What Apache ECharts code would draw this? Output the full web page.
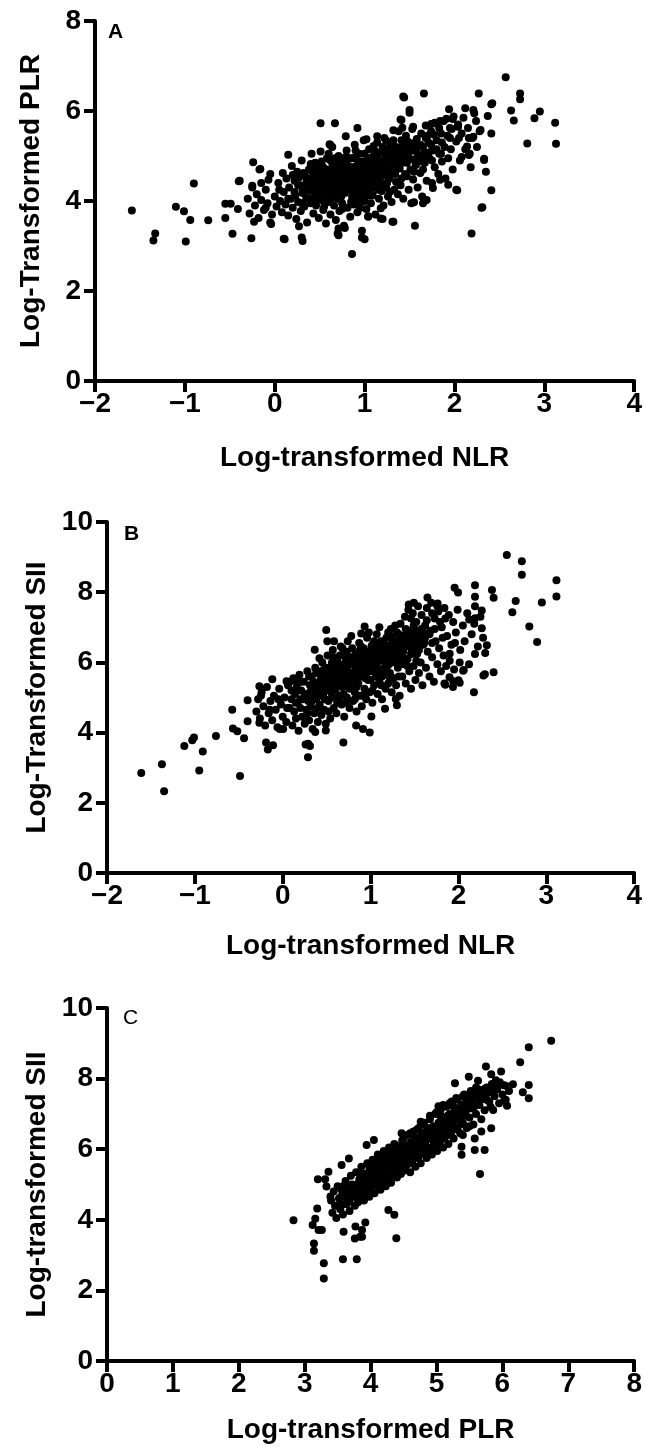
<!DOCTYPE html>
<html>
<head>
<meta charset="utf-8">
<script src="https://cdn.jsdelivr.net/npm/echarts@6/dist/echarts.min.js"></script>
<style>
html,body{margin:0;padding:0;background:#fff;}
#chart{width:645px;height:1447px;}
</style>
</head>
<body>
<div id="chart"></div>
<script>
// ---- Panel A: Log-transformed NLR (x) vs Log-Transformed PLR (y) ----
const nlrPlrOutliers = [
[-1.59,3.79],[-1.33,3.28],[-1.35,3.12],[-1.10,3.87],[-1.01,3.77],[-0.99,3.10],[-0.94,3.58],[-0.90,4.39],
[-0.74,3.57],[-0.55,3.94],[-0.49,3.94],[-0.55,3.62],[-0.47,3.27],[-0.41,3.82],[-0.40,4.44],[-0.26,3.17],
[-0.24,4.86],[-0.23,3.54],[-0.17,4.70],[-0.07,4.47],[-0.05,3.52],[0.10,3.16],[0.15,5.03],[0.27,3.44],
[0.30,3.19],[0.31,3.11],[0.51,5.73],[0.67,5.73],[0.62,5.24],[0.71,3.39],[0.71,3.24],[0.77,3.43],[0.86,2.82],
[0.92,5.62],[0.97,3.19],[1.00,3.15],[0.97,3.34],[1.04,3.65],[1.18,3.61],[1.31,3.54],[1.44,6.30],[1.41,5.80],
[1.50,6.02],[1.50,5.96],[1.56,3.45],[1.66,6.39],[1.69,4.02],[1.65,3.95],[1.94,6.04],[1.98,5.82],[2.03,4.24],
[2.12,6.06],[2.19,3.28],[2.21,6.02],[2.27,6.39],[2.30,3.85],[2.33,4.91],[2.35,4.65],[2.37,5.89],[2.41,5.50],
[2.41,6.15],[2.41,4.24],[2.16,5.02],[2.14,5.21],[2.57,6.75],[2.63,6.01],[2.66,5.79],[2.73,6.39],[2.73,6.26],
[2.81,5.28],[2.89,5.84],[2.95,5.99],[3.12,5.74],[3.13,5.27],[2.42,6.17],[2.24,5.78],[2.29,5.58],[2.16,5.40],
[2.21,5.43],[1.91,5.83],[2.04,5.65],[1.97,5.60],[2.05,5.40],[2.08,4.98],[2.17,5.05],[2.33,4.94],[2.31,3.86],
[1.24,5.34],[1.32,5.57],[1.42,5.63],[1.54,5.65],[1.40,5.81],[1.43,6.32],[1.78,5.74],[1.74,5.71],[1.84,5.78],
[0.79,5.44],[1.02,5.37],[0.61,5.26],[1.14,5.44],[-0.16,4.71],[-0.39,4.45],[-0.25,4.34],[0.70,3.28],[0.78,3.40],
[1.04,3.66],[1.18,3.84],[1.20,3.60],[1.32,3.54],[1.55,3.97],[1.67,4.03],[1.76,4.29],[1.93,4.36],[2.02,4.25],
[1.84,4.47],[-0.04,3.49],[0.11,3.15]
];
const nlrPlrCore = [
[-0.30,4.05],[-0.28,3.72],[-0.25,4.30],[-0.22,3.90],[-0.20,4.15],[-0.18,3.62],[-0.15,4.02],[-0.12,3.80],
[-0.10,4.25],[-0.08,3.95],[-0.05,4.60],[-0.03,3.70],[0.00,4.10],[0.02,3.88],[0.04,4.40],[0.06,4.00],
[0.08,3.75],[0.09,4.62],[0.10,4.20],[0.12,3.92],[0.13,4.50],[0.15,3.68],[0.16,4.30],[0.18,4.05],[0.19,4.78],
[0.20,3.85],[0.22,4.45],[0.23,4.12],[0.24,3.60],[0.25,4.65],[0.26,3.98],[0.28,4.35],[0.29,3.78],[0.30,4.90],
[0.31,4.18],[0.33,3.88],[0.34,4.55],[0.35,4.05],[0.36,3.52],[0.38,4.70],[0.39,4.28],[0.40,3.95],[0.41,5.05],
[0.42,4.45],[0.43,3.72],[0.44,4.15],[0.45,4.85],[0.46,3.90],[0.47,4.38],[0.48,4.60],[0.49,3.62],[0.50,4.25],
[0.51,5.10],[0.52,4.02],[0.53,4.50],[0.54,3.80],[0.55,4.72],[0.56,4.12],[0.57,3.50],[0.58,4.95],[0.59,4.35],
[0.60,3.98],[0.61,4.58],[0.62,3.70],[0.63,4.22],[0.64,5.20],[0.65,4.80],[0.66,3.90],[0.67,4.42],[0.68,3.58],
[0.69,4.65],[0.70,4.05],[0.71,5.00],[0.72,3.78],[0.73,4.30],[0.74,4.88],[0.75,3.95],[0.76,4.52],[0.77,3.45],
[0.78,4.18],[0.79,4.75],[0.80,5.12],[0.81,3.85],[0.82,4.40],[0.83,4.62],[0.84,3.65],[0.85,4.95],[0.86,4.10],
[0.87,4.55],[0.88,3.92],[0.89,5.25],[0.90,4.30],[0.91,4.78],[0.92,3.75],[0.93,4.48],[0.94,5.05],[0.95,4.15],
[0.96,3.98],[0.97,4.68],[0.98,4.35],[0.99,5.35],[1.00,4.00],[1.01,4.58],[1.02,3.82],[1.03,4.85],[1.04,4.25],
[1.05,5.15],[1.06,4.45],[1.07,3.95],[1.08,4.72],[1.09,4.12],[1.10,5.00],[1.11,4.60],[1.12,3.70],[1.13,4.35],
[1.14,5.30],[1.15,4.88],[1.16,4.05],[1.17,4.52],[1.18,5.08],[1.19,4.22],[1.20,4.75],[1.21,3.90],[1.22,5.40],
[1.23,4.62],[1.24,4.30],[1.25,4.98],[1.26,4.10],[1.27,5.18],[1.28,4.50],[1.29,4.82],[1.30,3.98],[1.31,4.68],
[1.32,5.35],[1.33,4.25],[1.34,4.90],[1.35,4.42],[1.36,5.05],[1.37,4.15],[1.38,5.55],[1.39,4.72],[1.40,4.35],
[1.42,5.22],[1.43,4.05],[1.44,4.88],[1.46,5.45],[1.47,4.55],[1.48,5.00],[1.49,4.25],[1.50,5.28],[1.51,4.70],
[1.52,3.95],[1.53,5.60],[1.54,4.48],[1.55,5.12],[1.57,4.80],[1.58,5.38],[1.59,4.30],[1.60,5.02],[1.62,4.62],
[1.63,5.50],[1.64,4.10],[1.65,5.20],[1.67,4.85],[1.68,5.68],[1.69,4.45],[1.71,5.30],[1.72,4.95],[1.74,5.55],
[1.75,4.40],[1.76,5.12],[1.78,4.75],[1.79,5.72],[1.80,5.35],[1.82,4.60],[1.83,5.05],[1.85,5.50],[1.86,4.88],
[1.88,5.78],[1.89,5.20],[1.90,4.50],[1.92,5.45],[1.93,4.95],[1.95,5.62],[1.96,5.15],[1.98,4.70],[1.99,5.88],
[2.02,5.32],[2.04,5.70],[2.06,4.90],[2.08,5.50],[2.10,5.85],[2.12,5.15],[2.15,5.62],[2.18,4.75],[2.20,5.40],
[2.22,5.95],[2.25,5.20],[2.28,5.55],
[0.32,4.62],[0.37,4.22],[0.44,4.55],[0.48,4.10],[0.53,4.78],[0.57,4.30],[0.61,4.92],[0.63,4.05],[0.66,4.62],
[0.70,4.35],[0.72,4.58],[0.75,4.20],[0.78,4.90],[0.81,4.45],[0.84,4.25],[0.86,4.75],[0.88,4.55],[0.91,4.05],
[0.93,4.88],[0.96,4.40],[0.98,4.70],[1.00,4.20],[1.03,4.50],[1.06,4.95],[1.08,4.35],[1.11,4.80],[1.13,4.55],
[1.16,4.68],[1.19,4.40],[1.22,4.92],[1.25,4.55],[1.28,4.20],[1.31,4.98],[1.34,4.60],[1.37,4.80],[1.41,4.50],
[0.55,4.40],[0.68,4.85],[0.83,4.95],[0.95,4.62],[1.10,4.30],[0.60,4.25],[0.77,4.68],[0.90,4.98],[1.04,4.70],
[1.18,4.85],[0.46,4.72],[0.40,4.35],[0.74,4.10],[0.89,4.30]
];
const nlrPlrDense = [
[0.22,4.20],[0.27,4.52],[0.33,4.30],[0.38,4.05],[0.42,4.65],[0.47,4.22],[0.50,4.48],[0.52,4.88],[0.56,4.58],
[0.59,4.15],[0.62,4.45],[0.65,4.28],[0.67,4.95],[0.69,4.50],[0.71,4.22],[0.73,4.75],[0.76,4.40],[0.79,4.58],
[0.80,4.30],[0.82,4.78],[0.85,4.48],[0.87,4.20],[0.89,4.68],[0.92,4.42],[0.94,4.25],[0.97,4.88],[0.99,4.52],
[1.01,4.32],[1.04,4.95],[1.07,4.62],[1.09,4.45],[1.12,5.10],[1.15,4.72],[1.17,4.90],[1.20,4.58],[1.23,5.05],
[1.26,4.75],[1.29,5.15],[1.32,4.82],[1.35,5.20],[1.38,4.95],[1.41,5.35],[1.44,5.05],[1.47,4.85],[1.50,5.10],
[1.53,4.92],[1.56,5.30],[1.59,5.00],[1.62,5.25],[1.65,4.95],[1.68,5.40],[1.71,5.08],[1.74,5.25],[1.77,5.48],
[1.80,5.15],[1.83,5.62],[1.86,5.30],[0.30,3.95],[0.35,4.40],[0.45,4.02],[0.55,3.88],[0.65,4.08],[0.75,3.82],
[0.85,3.98],[0.95,3.85],[1.05,4.12],[1.15,4.25],[1.25,4.40],[0.40,4.82],[0.50,4.70],[0.60,5.05],[0.70,4.72],
[0.80,4.92],[0.90,5.12],[1.00,5.05],[1.10,5.22],[1.20,5.20],[1.30,5.28],[0.15,4.05],[0.05,4.25],[-0.10,3.85],
[-0.15,4.40],[0.20,4.58],[1.45,4.60],[1.55,4.65],[1.65,4.70],[1.75,4.90],[1.85,5.05],[1.95,5.40],[0.58,4.62],
[0.64,4.75],[0.72,4.90],[0.86,4.60],[0.93,4.70],[1.02,4.88],[1.14,4.95],[0.68,4.30],[0.78,4.25],[0.88,4.15],
[0.98,4.10],
[0.41,4.50],[0.43,4.30],[0.49,4.40],[0.51,4.62],[0.54,4.20],[0.57,4.70],[0.60,4.50],[0.63,4.88],[0.66,4.40],
[0.68,4.15],[0.70,4.60],[0.73,4.45],[0.75,4.65],[0.77,4.32],[0.79,4.98],[0.81,4.62],[0.83,4.38],[0.85,4.72],
[0.87,4.95],[0.90,4.58],[0.91,4.38],[0.94,4.55],[0.96,4.80],[0.98,4.25],[1.00,4.65],[1.02,4.42],[1.05,4.58],
[1.07,4.28],[1.09,4.85],[1.11,4.48],[1.13,4.72],[1.16,4.45],[1.18,4.62],[1.21,4.78],[1.24,4.68],[1.27,4.95],
[1.30,4.62],[1.33,5.08],[1.36,4.72],[1.39,5.12],[1.42,4.85],[1.45,5.18],[1.48,5.32],[1.52,5.18],[1.58,5.15],
[1.61,4.88],[1.66,5.05],[1.70,5.45],[0.36,4.48],[0.31,4.25],[0.26,4.35],[0.52,4.35],[0.62,4.68],[0.72,4.40],
[0.82,4.58],[0.92,4.62],[1.02,4.62],[1.12,4.65],[1.22,4.70],[0.64,4.55],[0.84,4.68],[1.04,4.82],[0.74,4.55],
[0.94,4.50],[1.14,4.58],[0.55,4.55],[0.45,4.45],[1.26,5.02],[1.36,4.92],[1.46,4.98]
];

// ---- Panel B: Log-transformed NLR (x) vs Log-Transformed SII (y) ----
const nlrSiiOutliers = [
[-1.61,2.85],[-1.375,3.10],[-1.35,2.33],[-1.12,3.62],[-1.03,3.78],[-1.01,3.86],[-0.95,2.92],[-0.91,3.46],
[-0.76,3.90],[-0.575,4.65],[-0.567,4.12],[-0.517,4.04],[-0.44,3.84],[-0.486,2.76],[-0.40,4.92],[-0.40,4.32],
[-0.266,5.32],[-0.247,5.06],[-0.266,4.28],[-0.19,3.72],[-0.17,3.52],[-0.11,3.64],[-0.119,5.52],[0.043,5.46],
[0.14,5.48],[-0.034,4.10],[0.005,4.10],[0.26,3.66],[0.29,3.68],[0.31,3.62],[0.287,3.30],[0.37,4.02],[0.49,4.06],
[0.69,3.72],[0.495,6.92],[0.507,6.60],[0.584,6.60],[0.364,6.36],[0.418,6.12],[0.932,7.02],[0.893,6.82],
[0.835,4.20],[0.913,4.10],[0.99,4.00],[1.009,4.46],[1.287,4.96],[1.299,4.78],[1.164,4.68],
[1.434,7.65],[1.492,7.70],[1.647,7.85],[1.763,7.68],[1.956,8.13],[1.995,7.99],[2.188,8.20],[2.188,7.87],
[2.188,7.60],[2.381,8.06],[2.40,7.84],[2.265,7.48],[2.265,6.97],[2.188,6.24],[2.304,6.27],[2.323,6.49],
[2.284,5.63],[2.40,5.72],[2.176,5.15],[2.014,6.00],[2.053,5.76],[1.937,5.30],[2.014,5.42],[1.898,5.58],
[1.84,5.40],[2.122,7.22],[2.188,7.26],[2.613,7.43],[2.651,7.75],[2.721,8.50],[2.721,8.88],[2.55,9.06],
[2.806,7.02],[2.895,6.58],[2.949,7.71],[3.115,8.34],[3.115,7.88],[2.00,5.49],[1.94,5.46],[2.06,5.78],
[1.85,5.36],[2.30,5.66],[1.96,6.55],[1.90,6.25]
];
const nlrSiiCore = [
[-0.30,4.60],[-0.28,4.95],[-0.26,4.40],[-0.24,5.15],[-0.22,4.75],[-0.20,4.20],[-0.18,5.30],[-0.16,4.55],
[-0.14,4.90],[-0.12,4.35],[-0.10,5.05],[-0.08,4.65],[-0.06,4.15],[-0.04,5.25],[-0.02,4.80],[0.00,4.45],
[0.02,5.00],[0.04,4.30],[0.06,5.35],[0.08,4.70],[0.10,4.95],[0.11,4.20],[0.12,5.55],[0.13,4.60],[0.14,5.10],
[0.15,4.40],[0.16,5.30],[0.17,4.85],[0.18,4.05],[0.19,5.65],[0.20,4.70],[0.21,5.20],[0.22,4.45],[0.23,4.95],
[0.24,5.45],[0.25,4.25],[0.26,5.05],[0.27,4.65],[0.28,5.75],[0.29,4.90],[0.30,4.35],[0.31,5.35],[0.32,4.75],
[0.33,5.60],[0.34,4.10],[0.35,5.15],[0.36,4.55],[0.37,5.85],[0.38,4.95],[0.39,5.40],[0.40,4.30],[0.41,5.70],
[0.42,4.80],[0.43,5.25],[0.44,4.50],[0.45,6.00],[0.46,5.05],[0.47,4.65],[0.48,5.55],[0.49,4.25],[0.50,5.30],
[0.51,6.20],[0.52,4.90],[0.53,5.75],[0.54,4.40],[0.55,5.45],[0.56,5.00],[0.57,6.35],[0.58,4.70],[0.59,5.90],
[0.60,5.20],[0.61,4.55],[0.62,6.05],[0.63,5.60],[0.64,4.95],[0.65,5.35],[0.66,6.45],[0.67,4.80],[0.68,5.80],
[0.69,5.10],[0.70,4.45],[0.71,6.25],[0.72,5.55],[0.73,5.00],[0.74,6.60],[0.75,5.30],[0.76,4.70],[0.77,5.95],
[0.78,5.45],[0.79,6.40],[0.80,4.90],[0.81,5.70],[0.82,5.15],[0.83,6.15],[0.84,4.60],[0.85,5.85],[0.86,5.40],
[0.87,6.55],[0.88,5.05],[0.89,6.00],[0.90,4.75],[0.91,5.60],[0.92,6.30],[0.93,5.25],[0.94,5.90],[0.95,4.95],
[0.96,6.70],[0.97,5.50],[0.98,6.10],[0.99,5.15],[1.00,5.75],[1.01,6.45],[1.02,4.85],[1.03,5.95],[1.04,5.35],
[1.05,6.25],[1.06,5.60],[1.07,6.80],[1.08,5.10],[1.09,6.05],[1.10,5.45],[1.11,6.55],[1.12,5.80],[1.13,4.95],
[1.14,6.35],[1.15,5.65],[1.16,6.15],[1.17,5.25],[1.18,6.70],[1.19,5.90],[1.20,5.40],[1.21,6.40],[1.22,5.70],
[1.23,6.95],[1.24,5.15],[1.25,6.20],[1.26,5.55],[1.27,6.60],[1.28,6.00],[1.29,5.35],[1.30,6.85],[1.31,5.85],
[1.32,6.45],[1.33,5.05],[1.34,7.10],[1.35,6.20],[1.36,5.60],[1.37,6.75],[1.38,5.95],[1.39,7.30],[1.40,5.40],
[1.41,6.55],[1.42,6.10],[1.43,7.50],[1.44,5.75],[1.45,6.90],[1.46,5.25],[1.47,6.35],[1.48,7.40],[1.49,5.90],
[1.50,6.65],[1.51,5.50],[1.52,7.15],[1.53,6.25],[1.54,7.60],[1.55,5.70],[1.56,6.80],[1.57,6.00],[1.58,7.35],
[1.59,5.35],[1.60,6.50],[1.62,7.05],[1.63,5.85],[1.64,7.55],[1.65,6.30],[1.67,5.60],[1.68,6.90],[1.69,7.70],
[1.70,6.15],[1.72,5.45],[1.73,7.25],[1.74,6.60],[1.76,5.95],[1.77,7.45],[1.78,6.40],[1.80,5.75],[1.81,7.00],
[1.83,6.20],[1.84,7.55],[1.86,5.90],[1.87,6.75],[1.89,7.35],[1.90,6.05],[1.92,6.50],[1.94,7.15],[1.95,5.80],
[1.97,6.85],[1.99,7.50],[2.02,6.35],[2.05,7.05],[2.07,6.60],[2.10,7.40],[2.12,5.95],[2.15,6.80],[2.18,7.10],
[2.22,6.45],[2.25,7.30],[2.28,6.70],
[0.30,5.00],[0.36,5.25],[0.42,5.10],[0.48,4.95],[0.53,5.20],[0.58,5.50],[0.62,5.35],[0.66,5.65],[0.70,5.40],
[0.74,5.75],[0.78,5.60],[0.82,5.90],[0.86,5.70],[0.90,6.05],[0.94,5.55],[0.98,5.85],[1.02,6.15],[1.06,5.95],
[1.10,6.25],[1.14,6.05],[1.18,6.30],[1.22,6.10],[1.26,6.40],[1.30,6.25],[1.34,6.55],[1.38,6.40],[0.55,5.85],
[0.72,6.05],[0.88,6.35],[1.04,6.60],[1.20,6.85],[0.45,5.40],[0.60,5.65],[0.76,5.25],[0.92,5.80],[1.08,5.70],
[0.40,4.70],[0.64,5.05],[0.84,5.30],[1.00,5.50],[1.16,5.85],[1.32,6.05],[1.48,6.25],[1.55,6.50],[1.62,6.70],
[1.70,6.55]
];
const nlrSiiDense = [
[0.05,4.70],[0.10,5.20],[0.15,4.85],[0.20,5.45],[0.25,5.10],[0.30,5.60],[0.33,4.90],[0.38,5.70],[0.41,5.35],
[0.44,5.05],[0.47,5.80],[0.50,5.50],[0.53,5.25],[0.56,6.00],[0.59,5.40],[0.62,5.75],[0.65,5.95],[0.68,5.30],
[0.71,5.85],[0.73,6.30],[0.76,5.60],[0.79,6.15],[0.81,5.45],[0.84,6.05],[0.87,5.80],[0.89,6.45],[0.92,6.00],
[0.95,5.65],[0.97,6.30],[1.00,6.00],[1.03,6.40],[1.05,5.80],[1.08,6.50],[1.11,6.10],[1.13,5.60],[1.16,6.50],
[1.19,6.15],[1.21,5.95],[1.24,6.70],[1.27,6.30],[1.29,6.00],[1.32,6.80],[1.35,6.45],[1.37,6.15],[1.40,6.95],
[1.43,6.60],[1.46,6.25],[1.49,7.05],[1.52,6.70],[1.55,6.35],[1.58,6.95],[1.61,6.55],[1.64,7.20],[1.67,6.80],
[1.70,7.40],[1.73,6.95],[1.76,7.60],[1.79,7.15],[1.82,6.70],[1.85,7.25],[0.35,5.45],[0.45,5.65],[0.55,5.15],
[0.65,6.20],[0.75,5.95],[0.85,6.25],[0.95,6.20],[1.05,6.10],[1.15,6.30],[1.25,6.55],[1.35,6.75],[1.45,6.45],
[0.20,4.95],[0.28,4.55],[0.52,4.60],[0.62,4.85],[0.72,4.85],[0.82,4.95],[0.92,5.05],[1.02,5.20],[1.12,5.35],
[1.22,5.50],[1.32,5.60],[1.42,5.90],[1.52,6.05],[-0.05,4.95],[-0.15,4.65],[0.08,5.45],[0.58,6.15],[0.68,6.40],
[0.78,6.75],[0.98,6.85],[1.10,7.00],[1.28,7.05],[1.46,7.25],
[0.31,5.15],[0.34,5.30],[0.39,5.20],[0.43,5.50],[0.46,5.30],[0.49,5.65],[0.52,5.40],[0.55,5.60],[0.57,5.35],
[0.60,5.80],[0.63,5.50],[0.66,5.85],[0.69,5.60],[0.71,5.40],[0.74,5.90],[0.77,5.70],[0.80,6.00],[0.83,5.75],
[0.85,5.55],[0.88,6.10],[0.91,5.85],[0.93,6.15],[0.96,5.95],[0.99,6.25],[1.01,5.90],[1.04,6.20],[1.07,5.95],
[1.09,6.35],[1.12,6.15],[1.15,6.45],[1.17,6.00],[1.20,6.30],[1.23,6.50],[1.25,6.20],[1.28,6.55],[1.31,6.35],
[1.33,6.65],[1.36,6.35],[1.39,6.60],[1.41,6.80],[1.44,6.50],[1.47,6.75],[1.50,6.45],[1.53,6.90],[1.57,6.65],
[1.60,6.85],[0.37,5.00],[0.47,5.20],[0.57,5.45],[0.67,5.45],[0.77,5.50],[0.87,5.65],[0.97,5.75],[1.07,5.85],
[1.17,6.05],[1.27,6.15],[1.37,6.30],[0.62,5.95],[0.72,6.15],[0.82,6.20],[0.92,6.40],[1.02,6.50],[1.12,6.60],
[1.22,6.75],[0.50,5.85],[0.44,5.75]
];

// ---- Panel C: Log-transformed PLR (x) vs Log-transformed SII (y) ----
const plrSiiOutliers = [
[2.83,3.99],[3.12,3.85],[3.16,4.03],[3.14,3.33],[3.14,3.12],[3.19,4.32],[3.21,3.71],[3.26,3.71],[3.29,2.77],
[3.29,2.34],[3.20,5.15],[3.31,5.15],[3.33,4.94],[3.36,5.36],[3.39,4.66],[3.58,2.88],[3.79,2.88],[3.59,3.66],
[3.67,5.74],[3.56,5.55],[3.77,3.81],[3.87,3.71],[3.87,3.52],[3.92,3.92],[4.39,3.48],[4.36,4.14],[4.27,4.28],
[3.94,6.12],[4.05,6.26],[4.47,6.45],[4.76,6.78],[5.03,7.22],[5.28,7.87],[5.49,8.05],[5.63,7.94],[5.75,8.34],
[5.83,8.12],[5.98,8.20],[5.88,7.79],[6.01,7.82],[6.16,7.84],[6.03,7.39],[6.07,7.23],[5.86,7.11],[5.83,6.59],
[5.68,6.50],[5.58,5.98],[5.73,5.98],[5.66,5.30],[5.38,5.84],[5.40,6.40],[5.38,6.07],[6.27,8.46],[6.40,8.89],
[6.74,9.07],[6.31,7.61],[6.40,7.82],[6.40,7.44],[5.58,6.30],[5.50,6.65],[3.84,3.52],[3.76,3.47]
];
const plrSiiCore = [
[3.40,4.55],[3.42,4.20],[3.44,4.80],[3.46,4.40],[3.48,4.05],[3.50,4.95],[3.52,4.60],[3.54,4.30],[3.56,4.85],
[3.58,4.15],[3.60,4.70],[3.62,5.10],[3.64,4.45],[3.66,4.90],[3.68,4.25],[3.70,5.25],[3.72,4.65],[3.74,4.95],
[3.76,4.40],[3.78,5.35],[3.80,4.80],[3.81,4.50],[3.83,5.15],[3.85,4.70],[3.86,5.50],[3.88,4.95],[3.90,4.55],
[3.91,5.30],[3.93,4.85],[3.95,5.60],[3.96,5.05],[3.98,4.65],[4.00,5.40],[4.01,4.90],[4.03,5.70],[4.05,5.15],
[4.06,4.75],[4.08,5.55],[4.10,5.00],[4.11,5.85],[4.13,5.30],[4.15,4.85],[4.16,5.65],[4.18,5.10],[4.20,5.95],
[4.21,5.45],[4.23,4.95],[4.25,5.75],[4.26,5.25],[4.28,6.05],[4.30,5.55],[4.31,5.05],[4.33,5.85],[4.35,5.35],
[4.36,6.15],[4.38,5.65],[4.40,5.20],[4.41,6.00],[4.43,5.45],[4.45,5.90],[4.46,5.30],[4.48,6.25],[4.50,5.70],
[4.51,5.40],[4.53,6.10],[4.55,5.55],[4.56,6.40],[4.58,5.85],[4.60,5.35],[4.61,6.20],[4.63,5.65],[4.65,6.50],
[4.66,5.95],[4.68,5.50],[4.70,6.30],[4.71,5.80],[4.73,6.60],[4.75,6.05],[4.76,5.60],[4.78,6.45],[4.80,5.90],
[4.81,6.75],[4.83,6.20],[4.85,5.75],[4.86,6.55],[4.88,6.00],[4.90,6.85],[4.91,6.30],[4.93,5.85],[4.95,6.65],
[4.96,6.10],[4.98,7.00],[5.00,6.40],[5.01,5.95],[5.03,6.75],[5.05,6.20],[5.06,7.10],[5.08,6.55],[5.10,6.05],
[5.11,6.90],[5.13,6.35],[5.15,7.20],[5.16,6.65],[5.18,6.15],[5.20,7.00],[5.21,6.45],[5.23,7.35],[5.25,6.80],
[5.26,6.30],[5.28,7.15],[5.30,6.60],[5.32,7.40],[5.34,6.90],[5.36,6.45],[5.38,7.25],[5.40,6.75],[5.42,7.55],
[5.44,7.05],[5.46,6.60],[5.48,7.35],[5.50,6.90],[5.52,7.65],[5.54,7.15],[5.56,6.70],[5.58,7.45],[5.60,7.00],
[5.63,7.70],[5.65,7.25],[5.68,6.85],[5.70,7.55],[5.73,7.10],[5.76,7.75],[5.80,7.35],[5.84,7.85],[5.88,7.50],
[5.92,7.70],[5.96,7.90],[6.00,7.55],[6.05,7.80],[6.10,7.65],
[3.75,4.70],[3.85,4.90],[3.95,5.10],[4.05,5.25],[4.15,5.40],[4.25,5.50],[4.35,5.70],[4.45,5.80],[4.55,5.95],
[4.65,6.10],[4.75,6.25],[4.85,6.40],[4.95,6.50],[5.05,6.60],[5.15,6.80],[5.25,6.95],[5.35,7.10],[4.00,5.00],
[4.20,5.30],[4.40,5.55],[4.60,5.80],[4.80,6.05],[5.00,6.25],[5.20,6.50],[4.10,5.50],[4.30,5.80],[4.50,6.00],
[4.70,6.20],[4.90,6.45],[5.10,6.70],[3.90,5.20],[3.70,4.95],[3.60,4.45],[3.55,4.65]
];
const plrSiiDense = [
[3.62,4.80],[3.68,4.55],[3.72,5.00],[3.78,4.85],[3.82,5.05],[3.87,5.25],[3.92,5.00],[3.97,5.35],[4.02,5.15],
[4.07,5.45],[4.12,5.20],[4.17,5.55],[4.22,5.35],[4.27,5.65],[4.32,5.45],[4.37,5.80],[4.42,5.60],[4.47,5.95],
[4.52,5.75],[4.57,6.10],[4.62,5.90],[4.67,6.25],[4.72,6.05],[4.77,6.40],[4.82,6.15],[4.87,6.30],[4.92,6.55],
[4.97,6.35],[5.02,6.50],[5.07,6.85],[5.12,6.55],[5.17,6.95],[5.22,6.70],[5.27,7.05],[5.32,6.85],[5.37,7.20],
[5.42,6.95],[5.47,7.15],[5.52,7.35],[5.57,7.20],[5.62,7.45],[5.67,7.40],[5.72,7.70],[5.78,7.60],[5.82,7.20],
[3.52,4.40],[3.58,4.95],[3.65,4.60],[3.80,4.60],[3.92,4.75],[4.02,4.80],[4.12,4.95],[4.22,5.10],[4.32,5.25],
[4.42,5.35],[4.52,5.50],[4.62,5.60],[4.72,5.75],[4.82,5.85],[4.92,6.05],[5.02,6.15],[5.12,6.30],[5.22,6.40],
[5.32,6.55],[3.85,5.35],[3.98,5.50],[4.08,5.70],[4.18,5.80],[4.28,5.95],[4.38,6.05],[4.50,6.30],[4.60,6.45],
[4.70,6.55],[4.80,6.70],[4.90,6.95],[5.00,7.05],[5.10,7.25],[5.20,7.30],[5.30,7.45],[5.40,7.50],[5.45,7.40],
[5.55,7.55],[5.85,7.70],[5.95,7.30],[6.05,7.40],[5.90,7.95],[5.60,7.75],
[3.74,4.80],[3.84,5.00],[3.94,5.20],[4.04,5.35],[4.14,5.50],[4.24,5.65],[4.34,5.55],[4.44,5.70],[4.54,5.85],
[4.64,6.00],[4.74,6.15],[4.84,6.25],[4.94,6.40],[5.04,6.40],[5.14,6.60],[5.24,6.75],[5.34,7.00],[5.44,7.20],
[5.54,7.30],[3.66,4.70],[3.96,4.95],[4.16,5.20],[4.36,5.45],[4.56,5.70],[4.76,5.95],[4.96,6.20],[5.16,6.45],
[5.36,6.70],[4.06,5.60],[4.26,5.85],[4.46,6.10],[4.66,6.35],[4.86,6.60],[5.06,6.95],[5.26,7.20],[5.46,7.50],
[5.66,7.60],[5.76,7.40]
];

// axis ranges / tick steps
const axisA = {xMin:-2, xMax:4, xStep:1, yMin:0, yMax:8, yStep:2};
const axisB = {xMin:-2, xMax:4, xStep:1, yMin:0, yMax:10, yStep:2};
const axisC = {xMin:0, xMax:8, xStep:1, yMin:0, yMax:10, yStep:2};
const titles = {
  aX:'Log-transformed NLR', aY:'Log-Transformed PLR',
  bX:'Log-transformed NLR', bY:'Log-Transformed SII',
  cX:'Log-transformed PLR', cY:'Log-transformed SII'
};
const panelLetters = ['A','B','C'];

const FONT = "'Liberation Sans', Arial, Helvetica, sans-serif";
const minus = v => String(v).replace('-', '\u2212');

function xAxisOf(idx, ax, name, gap){
  return {
    type:'value', gridIndex:idx, min:ax.xMin, max:ax.xMax, interval:ax.xStep,
    name:name, nameLocation:'middle', nameGap:gap,
    nameTextStyle:{fontFamily:FONT, fontWeight:'bold', fontSize:28, color:'#000'},
    axisLine:{onZero:false, lineStyle:{color:'#000', width:4}},
    axisTick:{length:11, lineStyle:{color:'#000', width:4}},
    axisLabel:{margin:9, fontFamily:FONT, fontWeight:'bold', fontSize:28, color:'#000', formatter:minus},
    splitLine:{show:false}
  };
}
function yAxisOf(idx, ax, name, gap){
  return {
    type:'value', gridIndex:idx, min:ax.yMin, max:ax.yMax, interval:ax.yStep,
    name:name, nameLocation:'middle', nameGap:gap, nameRotate:90,
    nameTextStyle:{fontFamily:FONT, fontWeight:'bold', fontSize:28, color:'#000'},
    axisLine:{onZero:false, lineStyle:{color:'#000', width:4}},
    axisTick:{length:11, lineStyle:{color:'#000', width:4}},
    axisLabel:{margin:14, fontFamily:FONT, fontWeight:'bold', fontSize:28, color:'#000', formatter:minus},
    splitLine:{show:false}
  };
}
function scatterOf(idx, data){
  return {type:'scatter', xAxisIndex:idx, yAxisIndex:idx, data:data, symbolSize:8,
    itemStyle:{color:'#000', opacity:1}, silent:true, animation:false};
}

const chart = echarts.init(document.getElementById('chart'), null, {renderer:'canvas'});
chart.setOption({
  backgroundColor:'#fff',
  animation:false,
  grid:[
    {left:95, top:21, width:542, height:360},
    {left:107, top:522, width:530, height:351},
    {left:107, top:1008, width:530, height:353}
  ],
  xAxis:[
    xAxisOf(0, axisA, titles.aX, 63),
    xAxisOf(1, axisB, titles.bX, 59),
    xAxisOf(2, axisC, titles.cX, 55)
  ],
  yAxis:[
    yAxisOf(0, axisA, titles.aY, 50),
    yAxisOf(1, axisB, titles.bY, 55),
    yAxisOf(2, axisC, titles.cY, 55)
  ],
  graphic:[
    {type:'text', left:108, top:22, style:{text:panelLetters[0], font:"bold 21px "+FONT, fill:'#000'}},
    {type:'text', left:124, top:524, style:{text:panelLetters[1], font:"bold 21px "+FONT, fill:'#000'}},
    {type:'text', left:123, top:1008, style:{text:panelLetters[2], font:"21px "+FONT, fill:'#000'}}
  ],
  series:[
    scatterOf(0, nlrPlrCore.concat(nlrPlrDense, nlrPlrOutliers)),
    scatterOf(1, nlrSiiCore.concat(nlrSiiDense, nlrSiiOutliers)),
    scatterOf(2, plrSiiCore.concat(plrSiiDense, plrSiiOutliers))
  ]
});
</script>
</body>
</html>
